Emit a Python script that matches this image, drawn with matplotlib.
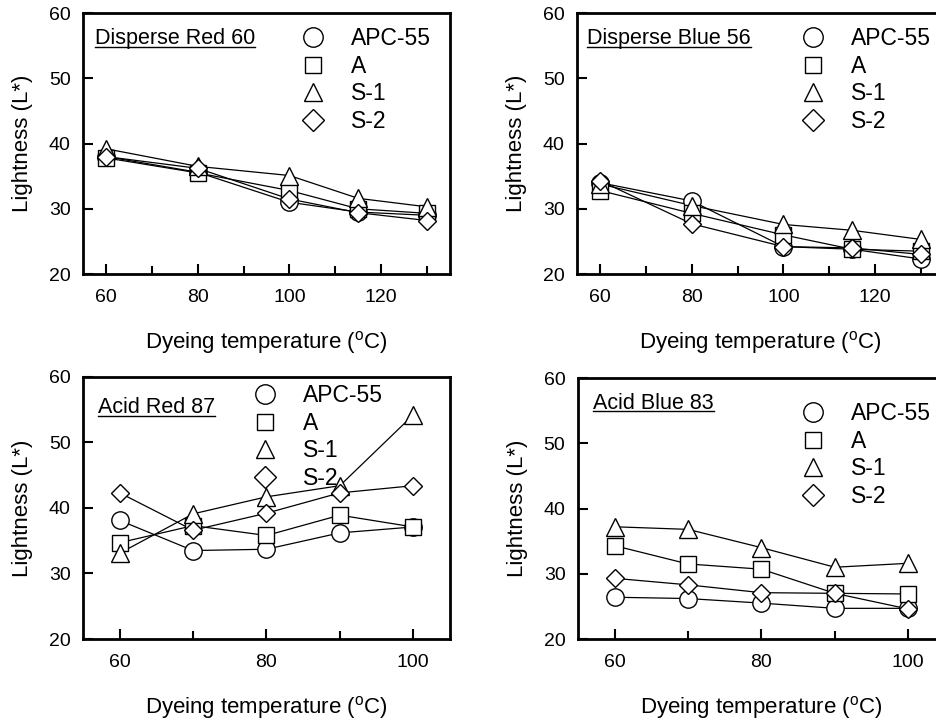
import matplotlib
matplotlib.use("Agg")
import matplotlib.pyplot as plt
from matplotlib.lines import Line2D
from matplotlib.ticker import MultipleLocator

plt.rcParams["font.family"] = ["Liberation Sans", "DejaVu Sans"]
plt.rcParams["mathtext.fontset"] = "custom"
plt.rcParams["mathtext.rm"] = "Liberation Sans"
plt.rcParams["mathtext.default"] = "regular"

# dyeing temperatures (deg C)
temps_disperse = [60, 80, 100, 115, 130]
temps_acid = [60, 70, 80, 90, 100]

series_names = ["APC-55", "A", "S-1", "S-2"]

# Disperse Red 60
dr60_apc = [38.0, 35.6, 31.0, 29.5, 29.0]
dr60_a = [37.8, 35.5, 32.8, 30.0, 29.3]
dr60_s1 = [39.2, 36.5, 35.1, 31.6, 30.3]
dr60_s2 = [38.0, 36.2, 31.5, 29.4, 28.2]

# Disperse Blue 56
db56_apc = [34.0, 31.2, 24.2, 23.8, 22.3]
db56_a = [32.8, 29.3, 26.0, 23.8, 23.5]
db56_s1 = [33.8, 30.5, 27.6, 26.7, 25.3]
db56_s2 = [34.3, 27.7, 24.2, 24.0, 23.0]

# Acid Red 87
ar87_apc = [38.1, 33.5, 33.7, 36.2, 37.1]
ar87_a = [34.7, 37.3, 35.8, 38.9, 37.1]
ar87_s1 = [33.1, 39.1, 41.7, 43.4, 54.2]
ar87_s2 = [42.3, 36.6, 39.2, 42.3, 43.4]

# Acid Blue 83
ab83_apc = [26.4, 26.2, 25.5, 24.7, 24.7]
ab83_a = [34.3, 31.5, 30.7, 27.0, 26.9]
ab83_s1 = [37.2, 36.8, 34.0, 31.0, 31.6]
ab83_s2 = [29.3, 28.3, 27.1, 27.0, 24.6]

markers = ["o", "s", "^", "D"]
msizes = [12.5, 11, 12.5, 9.5]
leg_msizes = [14, 11, 13.5, 11.5]

fig = plt.figure(figsize=(9.36, 7.24), dpi=100)

positions = [
    [0.0887, 0.6215, 0.392, 0.3605],
    [0.6165, 0.6215, 0.392, 0.3605],
    [0.0887, 0.1174, 0.392, 0.362],
    [0.6175, 0.1174, 0.392, 0.3605],
]


def panel(pos, temps, data, title, title_xy, legend_xy, xlim):
    ax = fig.add_axes(pos)
    for vals, m, ms in zip(data, markers, msizes):
        ax.plot(temps, vals, color="black", lw=0.9, zorder=2)
        ax.plot(temps, vals, ls="none", marker=m, ms=ms, mfc="white",
                mec="black", mew=1.0, zorder=3, clip_on=False)
    ax.set_xlim(*xlim)
    ax.set_ylim(20, 60)
    ax.xaxis.set_major_locator(MultipleLocator(20))
    ax.xaxis.set_minor_locator(MultipleLocator(10))
    ax.yaxis.set_major_locator(MultipleLocator(10))
    ax.tick_params(which="both", direction="in", top=False, right=False,
                   width=1.5, labelsize=14, pad=9)
    ax.tick_params(axis="x", which="both", pad=10.5)
    ax.tick_params(which="major", length=7.5)
    ax.tick_params(which="minor", length=6)
    for s in ax.spines.values():
        s.set_linewidth(2.0)
    ax.set_xlabel("Dyeing temperature ($^{o}$C)", fontsize=16, labelpad=17)
    ax.set_ylabel("Lightness (L*)", fontsize=16, labelpad=11)
    t = ax.text(title_xy[0], title_xy[1], title, transform=ax.transAxes,
                fontsize=15.5, ha="left", va="center")
    handles = [Line2D([], [], ls="none", marker=m, ms=ms, mfc="white",
                      mec="black", mew=1.0) for m, ms in zip(markers, leg_msizes)]
    ax.legend(handles, series_names, loc="upper left", bbox_to_anchor=legend_xy,
              frameon=False, fontsize=16.5, handlelength=1.0, handletextpad=1.15,
              labelspacing=0.2, borderpad=0, borderaxespad=0)
    return ax, t


axes = []
axes.append(panel(positions[0], temps_disperse,
                  [dr60_apc, dr60_a, dr60_s1, dr60_s2], "Disperse Red 60",
                  (0.033, 0.904), (0.595, 0.946), (55, 135)))
axes.append(panel(positions[1], temps_disperse,
                  [db56_apc, db56_a, db56_s1, db56_s2], "Disperse Blue 56",
                  (0.027, 0.904), (0.612, 0.946), (55, 135)))
axes.append(panel(positions[2], temps_acid,
                  [ar87_apc, ar87_a, ar87_s1, ar87_s2], "Acid Red 87",
                  (0.041, 0.882), (0.465, 0.973), (55, 105)))
axes.append(panel(positions[3], temps_acid,
                  [ab83_apc, ab83_a, ab83_s1, ab83_s2], "Acid Blue 83",
                  (0.041, 0.904), (0.609, 0.908), (55, 105)))

# underline the dye names
fig.canvas.draw()
renderer = fig.canvas.get_renderer()
for ax, t in axes:
    bb = t.get_window_extent(renderer).transformed(ax.transAxes.inverted())
    ax.plot([bb.x0, bb.x1], [bb.y0 + 0.008, bb.y0 + 0.008], color="black",
            lw=1.0, transform=ax.transAxes, clip_on=False)

fig.savefig("out.png", dpi=100)
